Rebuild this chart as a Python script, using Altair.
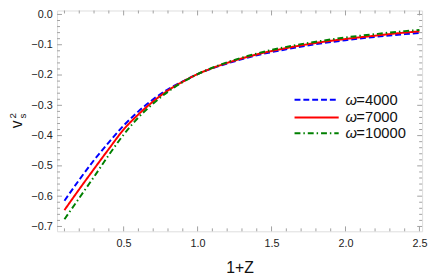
import altair as alt
import pandas as pd
import numpy as np

# ---- data ----
X = [0.1, 0.2, 0.3, 0.4, 0.5, 0.6, 0.7, 0.8, 0.9, 1.0, 1.1, 1.2, 1.4, 1.6, 1.8, 2.0, 2.2, 2.4, 2.5]
V4000 = [-0.615, -0.546, -0.481, -0.422, -0.367, -0.320, -0.280, -0.247, -0.221, -0.197,
         -0.178, -0.162, -0.135, -0.115, -0.098, -0.085, -0.074, -0.065, -0.061]
V7000 = [-0.646, -0.577, -0.510, -0.444, -0.380, -0.330, -0.287, -0.251, -0.222, -0.197,
         -0.177, -0.160, -0.132, -0.111, -0.094, -0.081, -0.070, -0.060, -0.056]
V10000 = [-0.676, -0.606, -0.536, -0.464, -0.397, -0.340, -0.294, -0.255, -0.223, -0.197,
          -0.176, -0.158, -0.129, -0.107, -0.090, -0.076, -0.065, -0.055, -0.051]

SERIES = ["4000", "7000", "10000"]
VALUES = [V4000, V7000, V10000]
COLORS = ["#0000ff", "#ff0000", "#008000"]
DASHES = [[6, 3], [1, 0], [6, 3, 1.5, 3]]

X_MAJOR = [0.5, 1.0, 1.5, 2.0, 2.5]
Y_MAJOR = [-0.7, -0.6, -0.5, -0.4, -0.3, -0.2, -0.1, 0.0]

W, H = 372, 225
XDOM = [0.05, 2.518]
YDOM = [-0.716, 0.013]
FRAME = "#a0a0a0"
FONT = "Liberation Sans"

x_minor = [round(v, 2) for v in np.arange(0.1, 2.51, 0.1) if round(v, 2) not in X_MAJOR]
y_minor = [round(v, 2) for v in np.arange(-0.70, 0.001, 0.02)
           if not any(abs(round(v, 2) - m) < 1e-9 for m in Y_MAJOR)]

xs = alt.Scale(domain=XDOM, nice=False, zero=False)
ys = alt.Scale(domain=YDOM, nice=False, zero=False)

xaxis = alt.Axis(values=X_MAJOR, format=".1f", ticks=False, domain=False, grid=False,
                 labelFont=FONT, labelFontSize=11, labelColor="#222", labelPadding=6,
                 labelOverlap=False,
                 title="1+Z", titleFont=FONT, titleFontSize=16, titleFontWeight="normal",
                 titleColor="#111", titlePadding=12)
yaxis = alt.Axis(values=Y_MAJOR, format=".1f", ticks=False, domain=False, grid=False,
                 labelFont=FONT, labelFontSize=11, labelColor="#222", labelPadding=5,
                 labelOverlap=False, labelExpr="replace(datum.label, '-', '\u2212')",
                 title=None)

layers = []
for name, vals, col, dash in zip(SERIES, VALUES, COLORS, DASHES):
    df = pd.DataFrame({"x": X, "y": vals, "s": name})
    layers.append(
        alt.Chart(df).mark_line(color=col, strokeDash=dash, strokeWidth=2,
                                interpolate="monotone", clip=True)
        .encode(x=alt.X("x:Q", scale=xs, axis=xaxis, title="1+Z"),
                y=alt.Y("y:Q", scale=ys, axis=yaxis))
    )

# frame ticks (inward, all four sides)
def xticks(vals, length):
    d = pd.DataFrame({"t": vals})
    b = alt.Chart(d).mark_rule(color=FRAME, strokeWidth=1).encode(
        x=alt.X("t:Q", scale=xs, axis=xaxis, title="1+Z"), y=alt.value(H), y2=alt.value(H - length))
    t = alt.Chart(d).mark_rule(color=FRAME, strokeWidth=1).encode(
        x=alt.X("t:Q", scale=xs, axis=xaxis, title="1+Z"), y=alt.value(0), y2=alt.value(length))
    return [b, t]

def yticks(vals, length):
    d = pd.DataFrame({"t": vals})
    l = alt.Chart(d).mark_rule(color=FRAME, strokeWidth=1).encode(
        y=alt.Y("t:Q", scale=ys, axis=yaxis), x=alt.value(0), x2=alt.value(length))
    r = alt.Chart(d).mark_rule(color=FRAME, strokeWidth=1).encode(
        y=alt.Y("t:Q", scale=ys, axis=yaxis), x=alt.value(W), x2=alt.value(W - length))
    return [l, r]

tick_layers = xticks(X_MAJOR, 5) + xticks(x_minor, 3) + yticks(Y_MAJOR, 5) + yticks(y_minor, 3)

# manual legend
leg_layers = []
ROW_Y = [91, 109, 125]
for name, col, dash, ry in zip(SERIES, COLORS, DASHES, ROW_Y):
    d = pd.DataFrame({"s": [name]})
    leg_layers.append(alt.Chart(d).mark_rule(color=col, strokeDash=dash, strokeWidth=2).encode(
        x=alt.value(242), x2=alt.value(287), y=alt.value(ry)))
    leg_layers.append(alt.Chart(d).mark_text(text="ω", font=FONT, fontSize=15, fontStyle="italic",
                                             align="left", baseline="middle", color="#111").encode(
        x=alt.value(294), y=alt.value(ry)))
    leg_layers.append(alt.Chart(d).mark_text(font=FONT, fontSize=15, align="left",
                                             baseline="middle", color="#111").encode(
        text=alt.Text("s:N"), x=alt.value(305), y=alt.value(ry)).transform_calculate(
        s="'=' + datum.s"))

# y title v_s^2
dt = pd.DataFrame({"a": [0]})
ytitle = [
    alt.Chart(dt).mark_text(text="v", font=FONT, fontSize=16, angle=270, align="left",
                            baseline="alphabetic", color="#111").encode(
        x=alt.value(-36), y=alt.value(120)),
    alt.Chart(dt).mark_text(text="2", font=FONT, fontSize=10, angle=270, align="left",
                            baseline="alphabetic", color="#111").encode(
        x=alt.value(-42), y=alt.value(110)),
    alt.Chart(dt).mark_text(text="s", font=FONT, fontSize=10, angle=270, align="left",
                            baseline="alphabetic", color="#111").encode(
        x=alt.value(-32), y=alt.value(110)),
]

chart = alt.layer(*layers, *tick_layers, *leg_layers, *ytitle).properties(
    width=W, height=H,
    autosize=alt.AutoSizeParams(type="none"),
    padding={"left": 50, "top": 0, "right": 6, "bottom": 44},
).configure_view(stroke=FRAME, strokeWidth=1).configure(background="white")

chart.save("out.html", embed_options={"renderer": "svg", "actions": False})
